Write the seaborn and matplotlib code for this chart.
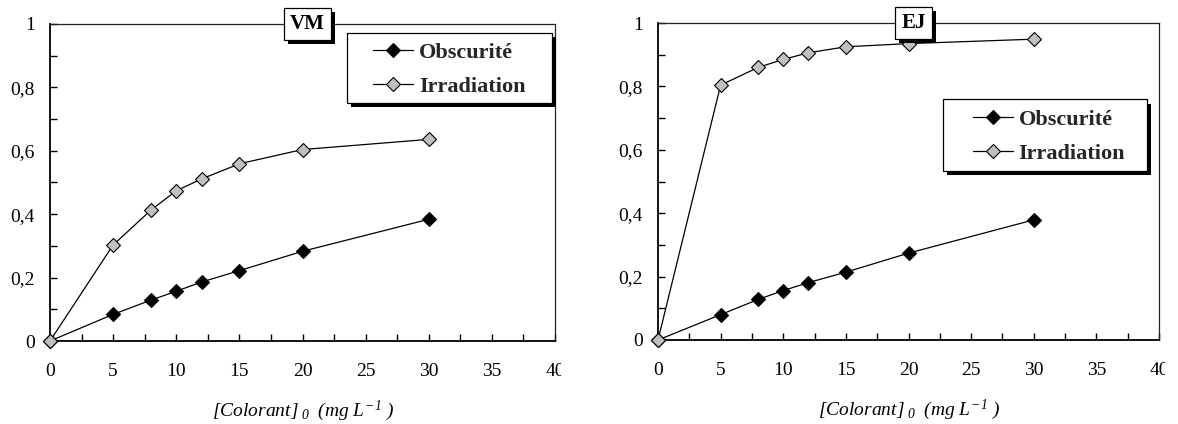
import matplotlib
matplotlib.use("Agg")
import matplotlib.pyplot as plt
import matplotlib.patheffects as pe
from matplotlib.patches import Rectangle
from matplotlib.ticker import MultipleLocator, FuncFormatter
from matplotlib.transforms import Bbox
import seaborn as sns
import pandas as pd

# Initial dye concentration (mg/L)
conc = [0, 5, 8, 10, 12, 15, 20, 30]

# VM dye
vm_obscurite = [0, 0.084, 0.129, 0.157, 0.186, 0.222, 0.283, 0.384]
vm_irradiation = [0, 0.303, 0.413, 0.474, 0.511, 0.559, 0.604, 0.636]

# EJ dye
ej_obscurite = [0, 0.080, 0.128, 0.156, 0.181, 0.214, 0.274, 0.379]
ej_irradiation = [0, 0.804, 0.860, 0.885, 0.906, 0.925, 0.935, 0.949]

series_names = ["Obscurité", "Irradiation"]
panel_titles = ["VM", "EJ"]

sns.set_theme(style="white")
plt.rcParams["font.family"] = ["Liberation Serif", "DejaVu Serif"]
plt.rcParams["mathtext.fontset"] = "custom"
plt.rcParams["mathtext.rm"] = "Liberation Serif:italic"
plt.rcParams["mathtext.it"] = "Liberation Serif:italic"
plt.rcParams["mathtext.bf"] = "Liberation Serif:bold"

fig = plt.figure(figsize=(11.78, 4.24), dpi=100)
ax_l = fig.add_axes([50 / 1178, 83 / 424, 505 / 1178, 317 / 424])
ax_r = fig.add_axes([658 / 1178, 84 / 424, 501 / 1178, 317 / 424])

# (axes, dark series, irradiated series, legend frame [x0, y0, x1, y1], legend anchor)
panels = [
    (ax_l, vm_obscurite, vm_irradiation, (0.588, 0.752, 0.994, 0.972), (0.640, 0.856)),
    (ax_r, ej_obscurite, ej_irradiation, (0.569, 0.534, 0.976, 0.759), (0.629, 0.642)),
]

marker_faces = ["black", "#c0c0c0"]
shadow = pe.SimplePatchShadow(offset=(3, -3), shadow_rgbFace="black", alpha=1)


def fmt_y(v, pos):
    if abs(v) < 1e-9:
        return "0"
    if abs(v - 1) < 1e-9:
        return "1"
    return f"{v:.1f}".replace(".", ",")


for (ax, obs, irr, frame, anchor), title in zip(panels, panel_titles):
    df = pd.DataFrame({
        "conc": conc * 2,
        "value": obs + irr,
        "serie": [series_names[0]] * len(conc) + [series_names[1]] * len(conc),
    })
    for name, face in zip(series_names, marker_faces):
        sub = df[df["serie"] == name]
        sns.lineplot(
            data=sub, x="conc", y="value", ax=ax, color="black",
            linewidth=0.9, marker="D", markersize=7.3,
            markerfacecolor=face, markeredgecolor="black",
            markeredgewidth=0.8, label=name, zorder=3, clip_on=False,
        )

    ax.set_xlim(0, 40)
    ax.set_ylim(0, 1)
    ax.xaxis.set_major_locator(MultipleLocator(5))
    ax.xaxis.set_minor_locator(MultipleLocator(2.5))
    ax.yaxis.set_major_locator(MultipleLocator(0.2))
    ax.yaxis.set_minor_locator(MultipleLocator(0.1))
    ax.yaxis.set_major_formatter(FuncFormatter(fmt_y))
    ax.xaxis.set_major_formatter(FuncFormatter(lambda v, p: f"{int(round(v))}"))
    ax.tick_params(which="both", direction="in", length=5, width=1,
                   color="black", labelsize=14, labelcolor="black")
    ax.tick_params(axis="x", which="both", pad=16, top=False, bottom=True)
    ax.tick_params(axis="y", which="both", pad=11, left=True, right=False)

    for side in ["left", "bottom"]:
        ax.spines[side].set_color("black")
        ax.spines[side].set_linewidth(1.3)
    for side in ["top", "right"]:
        ax.spines[side].set_color("#222222")
        ax.spines[side].set_linewidth(0.9)

    ax.set_ylabel("")
    ax.set_xlabel(r"$[Colorant]_{\ 0}\ \ (mg\ L^{-1}\ )$",
                  fontsize=14, labelpad=13, color="black")

    # Legend frame with a solid drop shadow
    box = Rectangle((frame[0], frame[1]), frame[2] - frame[0], frame[3] - frame[1],
                    transform=ax.transAxes, facecolor="white", edgecolor="black",
                    linewidth=0.9, zorder=6, clip_on=False)
    box.set_path_effects([shadow, pe.Normal()])
    ax.add_patch(box)

    leg = ax.legend(
        loc="center left", bbox_to_anchor=anchor, frameon=False,
        prop={"weight": "bold", "size": 16}, handlelength=1.8,
        handletextpad=0.25, borderpad=0, labelspacing=0.62,
        borderaxespad=0,
    )
    leg.set_zorder(7)

    t = ax.text(0.51, 1.0, title, transform=ax.transAxes, ha="center",
                va="center", fontsize=15, fontweight="bold", color="black",
                zorder=10,
                bbox=dict(boxstyle="square,pad=0.3", facecolor="white",
                          edgecolor="black", linewidth=0.9))
    t.get_bbox_patch().set_path_effects([shadow, pe.Normal()])

fig.canvas.draw()
# The last x tick label runs past the frame and is cut short
for ax in (ax_l, ax_r):
    bb = ax.get_window_extent()
    for lab in ax.get_xticklabels():
        if lab.get_text() == "40":
            clip = Bbox.from_extents(bb.x0 - 50, 0, bb.x1 + 6, fig.bbox.height)
            lab.set_clip_box(clip)
            lab.set_clip_on(True)

fig.savefig("out.png", dpi=100, facecolor="white")
